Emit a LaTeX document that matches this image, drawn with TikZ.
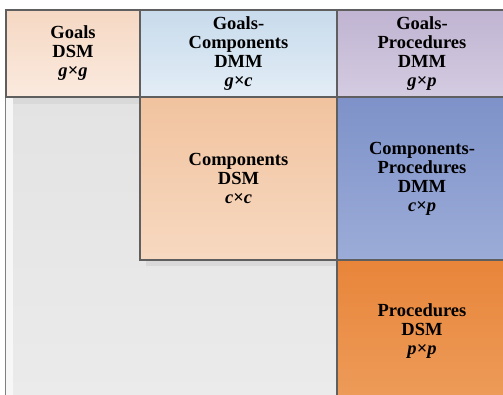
\documentclass[tikz,border=0pt]{standalone}
\usepackage{fontspec}
\setmainfont{Liberation Serif}
\begin{document}
\begin{tikzpicture}[x=1pt,y=-1pt]
\definecolor{edge}{HTML}{5F5F5F}
\definecolor{gdTop}{HTML}{F5D8C3}\definecolor{gdBot}{HTML}{FBEADF}
\definecolor{gcTop}{HTML}{C8DBEC}\definecolor{gcBot}{HTML}{E3EDF6}
\definecolor{gpTop}{HTML}{C0B4D2}\definecolor{gpBot}{HTML}{D4CCE1}
\definecolor{cdTop}{HTML}{F1C39F}\definecolor{cdBot}{HTML}{F7D9C1}
\definecolor{cpTop}{HTML}{7E92C9}\definecolor{cpBot}{HTML}{9CACD8}
\definecolor{pdTop}{HTML}{E8853A}\definecolor{pdBot}{HTML}{ED9C5A}
\definecolor{greyTop}{HTML}{E3E3E3}\definecolor{greyBot}{HTML}{EBEBEB}
\tikzset{
  cell/.style={draw=edge, line width=1.2pt, anchor=north west,
    inner sep=0pt, outer sep=0pt, align=center,
    font=\fontsize{18.5}{19}\selectfont\bfseries},
  gd/.style={cell, top color=gdTop, bottom color=gdBot},
  gc/.style={cell, top color=gcTop, bottom color=gcBot},
  gp/.style={cell, top color=gpTop, bottom color=gpBot},
  cd/.style={cell, top color=cdTop, bottom color=cdBot},
  cp/.style={cell, top color=cpTop, bottom color=cpBot},
  pd/.style={cell, top color=pdTop, bottom color=pdBot},
}
\useasboundingbox (0,0) rectangle (503,394);
\clip (0,0) rectangle (503,394);
\fill[white] (0,0) rectangle (503,394);
% empty lower-left area with its soft shadows
\shade[top color=greyTop, bottom color=greyBot] (6,97) rectangle (337,400);
\fill[white!94!gray] (6,97) rectangle (13,400);
\fill[black!15] (13,97) rectangle (140,104);
\fill[black!15] (146,260) rectangle (337,266);
\draw[edge!80, line width=1pt] (5.6,97) -- (5.6,400);
% matrix cells
\node[gd, minimum width=134pt, minimum height=87pt] (goalsDSM) at (6,10)
  {Goals\\DSM\\\itshape g×g};
\node[gc, minimum width=197pt, minimum height=87pt] (goalsComp) at (140,10)
  {Goals-\\Components\\DMM\\\itshape g×c};
\node[gp, minimum width=170pt, minimum height=87pt] (goalsProc) at (337,10)
  {Goals-\\Procedures\\DMM\\\itshape g×p};
\node[cd, minimum width=197pt, minimum height=163pt] (compDSM) at (140,97)
  {Components\\DSM\\\itshape c×c};
\node[cp, minimum width=170pt, minimum height=163pt] (compProc) at (337,97)
  {Components-\\Procedures\\DMM\\\itshape c×p};
\node[pd, minimum width=170pt, minimum height=142pt] (procDSM) at (337,260)
  {Procedures\\DSM\\\itshape p×p};
\end{tikzpicture}
\end{document}
